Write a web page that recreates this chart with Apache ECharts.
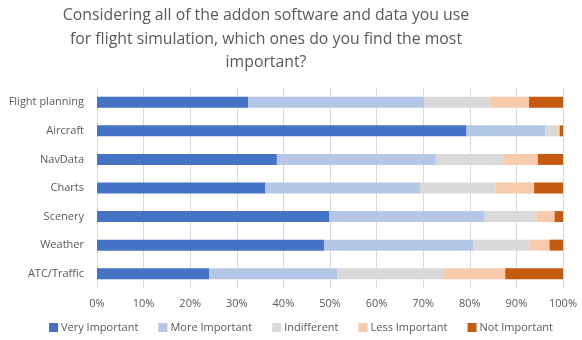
<!DOCTYPE html>
<html>
<head>
<meta charset="utf-8">
<script src="https://cdn.jsdelivr.net/npm/echarts@6/dist/echarts.min.js"></script>
<style>
  html, body { margin: 0; padding: 0; background: #ffffff; }
  #chart { width: 582px; height: 340px; }
</style>
</head>
<body>
<div id="chart"></div>
<script>
// Survey categories, top to bottom
const categories = ['Flight planning', 'Aircraft', 'NavData', 'Charts', 'Scenery', 'Weather', 'ATC/Traffic'];

// Share of respondents per answer (%)
const veryImportant = [32.4, 79.3, 38.6, 36.1, 49.9, 48.7, 24.1];
const moreImportant = [37.9, 16.9, 34.1, 33.2, 33.3, 32.1, 27.5];
const indifferent   = [14.0, 2.6, 14.6, 16.2, 11.1, 12.0, 22.7];
const lessImportant = [8.4, 0.5, 7.3, 8.3, 3.9, 4.3, 13.3];
const notImportant  = [7.3, 0.7, 5.4, 6.2, 1.8, 2.9, 12.4];

const seriesNames = ['Very Important', 'More Important', 'Indifferent', 'Less Important', 'Not Important'];
const seriesValues = [veryImportant, moreImportant, indifferent, lessImportant, notImportant];
const seriesColors = ['#4472C4', '#B4C7E7', '#D9D9D9', '#F8CBAD', '#C55A11'];

const chart = echarts.init(document.getElementById('chart'));
const font = 'Open Sans, Noto Sans, sans-serif';

chart.setOption({
  animation: false,
  textStyle: { fontFamily: font },
  title: {
    text: 'Considering all of the addon software and data you use\nfor flight simulation, which ones do you find the most\nimportant?',
    left: 261,
    textAlign: 'center',
    top: -1,
    textStyle: { fontFamily: font, fontSize: 15.8, fontWeight: 'normal', color: '#595959', lineHeight: 23.5 }
  },
  legend: {
    bottom: 2,
    left: 44,
    itemWidth: 9,
    itemHeight: 9,
    itemGap: 20,
    icon: 'rect',
    textStyle: { fontFamily: font, fontSize: 11, color: '#595959', padding: [0, 0, 0, -2] },
    data: seriesNames
  },
  grid: { left: 97, right: 19, top: 88, bottom: 52, containLabel: false },
  xAxis: {
    type: 'value',
    min: 0,
    max: 100,
    interval: 10,
    axisLabel: { formatter: '{value}%', fontSize: 11, color: '#595959', margin: 10 },
    axisLine: { show: false },
    axisTick: { show: false },
    splitLine: { show: true, lineStyle: { color: '#D9D9D9', width: 1 } }
  },
  yAxis: {
    type: 'category',
    data: categories,
    inverse: true,
    axisLine: { show: false },
    axisTick: { show: false },
    axisLabel: { fontSize: 11, color: '#595959', margin: 13 }
  },
  series: seriesNames.map((name, i) => ({
    name: name,
    type: 'bar',
    stack: 'total',
    barWidth: 11,
    data: seriesValues[i],
    itemStyle: { color: seriesColors[i] }
  }))
});
</script>
</body>
</html>
